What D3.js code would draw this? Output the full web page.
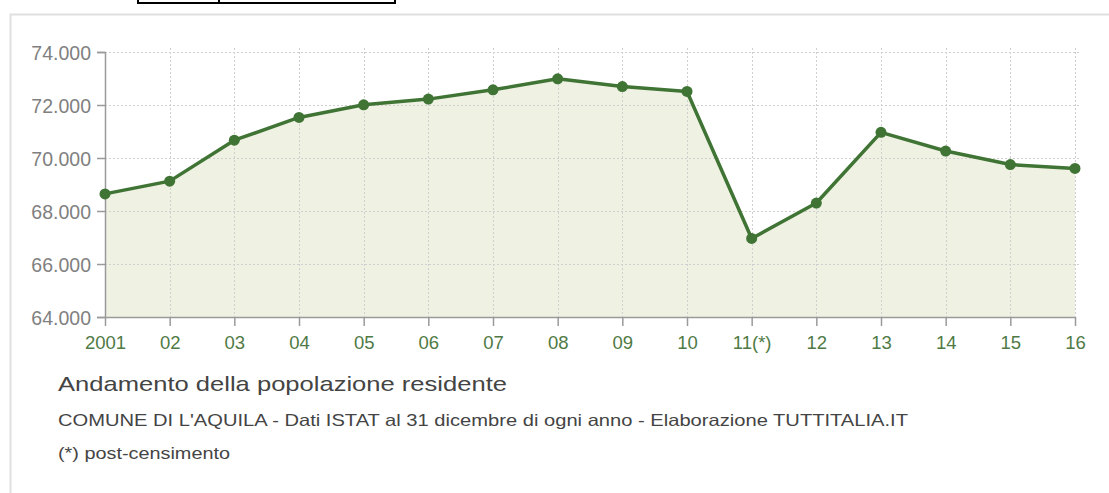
<!DOCTYPE html>
<html>
<head>
<meta charset="utf-8">
<script src="https://cdn.jsdelivr.net/npm/d3@7"></script>
<style>
  html, body { margin: 0; padding: 0; background: #fff; }
  svg { display: block; font-family: "Liberation Sans", Arial, Helvetica, sans-serif; }
</style>
</head>
<body>
<svg id="chart" width="1109" height="493"></svg>
<script>
// Popolazione residente al 31 dicembre, Comune di L'Aquila
const years = ["2001", "02", "03", "04", "05", "06", "07", "08", "09", "10", "11(*)", "12", "13", "14", "15", "16"];
const population = [68645, 69127, 70672, 71530, 72008, 72222, 72574, 72988, 72696, 72511, 66964, 68300, 70967, 70263, 69753, 69605];
const yTicks = [64000, 66000, 68000, 70000, 72000, 74000];

const title = "Andamento della popolazione residente";
const subtitle = "COMUNE DI L'AQUILA - Dati ISTAT al 31 dicembre di ogni anno - Elaborazione TUTTITALIA.IT";
const note = "(*) post-censimento";

const svg = d3.select("#chart");
const W = 1109, H = 493;
const m = { left: 105, right: 1075, top: 52, bottom: 317 };

// header table cells cut at the top
const hdr = svg.append("g").attr("fill", "none").attr("stroke", "#000").attr("stroke-width", 2);
hdr.append("rect").attr("x", 138).attr("y", -10).attr("width", 257).attr("height", 13);
hdr.append("line").attr("x1", 219).attr("x2", 219).attr("y1", -10).attr("y2", 3);

// panel frame
svg.append("path")
  .attr("d", `M10.5,${H} L10.5,14.5 L${W},14.5`)
  .attr("fill", "none").attr("stroke", "#e0e0e0").attr("stroke-width", 2);

const x = d3.scalePoint().domain(years).range([m.left, m.right]);
const y = d3.scaleLinear().domain([64000, 74000]).range([m.bottom, m.top]);

// area under the line
const area = d3.area()
  .x((d, i) => x(years[i]))
  .y0(y(64000))
  .y1(d => y(d));
svg.append("path").datum(population)
  .attr("d", area)
  .attr("fill", "#eff1e3");

// grid
const grid = svg.append("g").attr("stroke", "#cfcfcf").attr("stroke-width", 1).attr("stroke-dasharray", "2,2");
grid.selectAll("line.h").data(yTicks.filter(t => t > 64000)).join("line")
  .attr("x1", m.left).attr("x2", m.right + 5)
  .attr("y1", d => Math.round(y(d)) + 0.5).attr("y2", d => Math.round(y(d)) + 0.5);
grid.selectAll("line.v").data(years.slice(1)).join("line")
  .attr("x1", d => Math.round(x(d)) + 0.5).attr("x2", d => Math.round(x(d)) + 0.5)
  .attr("y1", m.top - 4).attr("y2", m.bottom);

// y axis
const yAxis = svg.append("g")
  .attr("transform", `translate(${m.left},0)`)
  .call(d3.axisLeft(y).tickValues(yTicks).tickSize(8).tickPadding(6)
    .tickFormat(d => d3.format(",")(d).replace(/,/g, ".")));
yAxis.select(".domain").attr("stroke", "#9a9a9a").attr("stroke-width", 1.5);
yAxis.selectAll(".tick line").attr("stroke", "#9a9a9a").attr("stroke-width", 1.5);
yAxis.selectAll(".tick text").attr("fill", "#808080").attr("font-size", 19.5).attr("dy", "0.36em");

// x axis
const xAxis = svg.append("g")
  .attr("transform", `translate(0,${m.bottom})`)
  .call(d3.axisBottom(x).tickSize(9).tickPadding(10).tickSizeOuter(0));
xAxis.select(".domain").attr("stroke", "#9a9a9a").attr("stroke-width", 1.5);
xAxis.selectAll(".tick line").attr("stroke", "#9a9a9a").attr("stroke-width", 1.5);
xAxis.selectAll(".tick text").attr("fill", "#4f7a45").attr("font-size", 18.5);

// line and points
const line = d3.line().x((d, i) => x(years[i])).y(d => y(d));
svg.append("path").datum(population)
  .attr("d", line)
  .attr("fill", "none").attr("stroke", "#3f7434").attr("stroke-width", 3.5)
  .attr("stroke-linejoin", "round");
svg.selectAll("circle.pt").data(population).join("circle")
  .attr("class", "pt")
  .attr("cx", (d, i) => x(years[i])).attr("cy", d => y(d))
  .attr("r", 5.5).attr("fill", "#3f7434");

// captions
svg.append("text").attr("x", 58).attr("y", 391)
  .attr("font-size", 21).attr("fill", "#444")
  .attr("textLength", 449).attr("lengthAdjust", "spacingAndGlyphs")
  .text(title);
svg.append("text").attr("x", 58).attr("y", 426)
  .attr("font-size", 16.5).attr("fill", "#444")
  .attr("textLength", 850).attr("lengthAdjust", "spacingAndGlyphs")
  .text(subtitle);
svg.append("text").attr("x", 58).attr("y", 459)
  .attr("font-size", 16).attr("fill", "#444")
  .attr("textLength", 172).attr("lengthAdjust", "spacingAndGlyphs")
  .text(note);
</script>
</body>
</html>
